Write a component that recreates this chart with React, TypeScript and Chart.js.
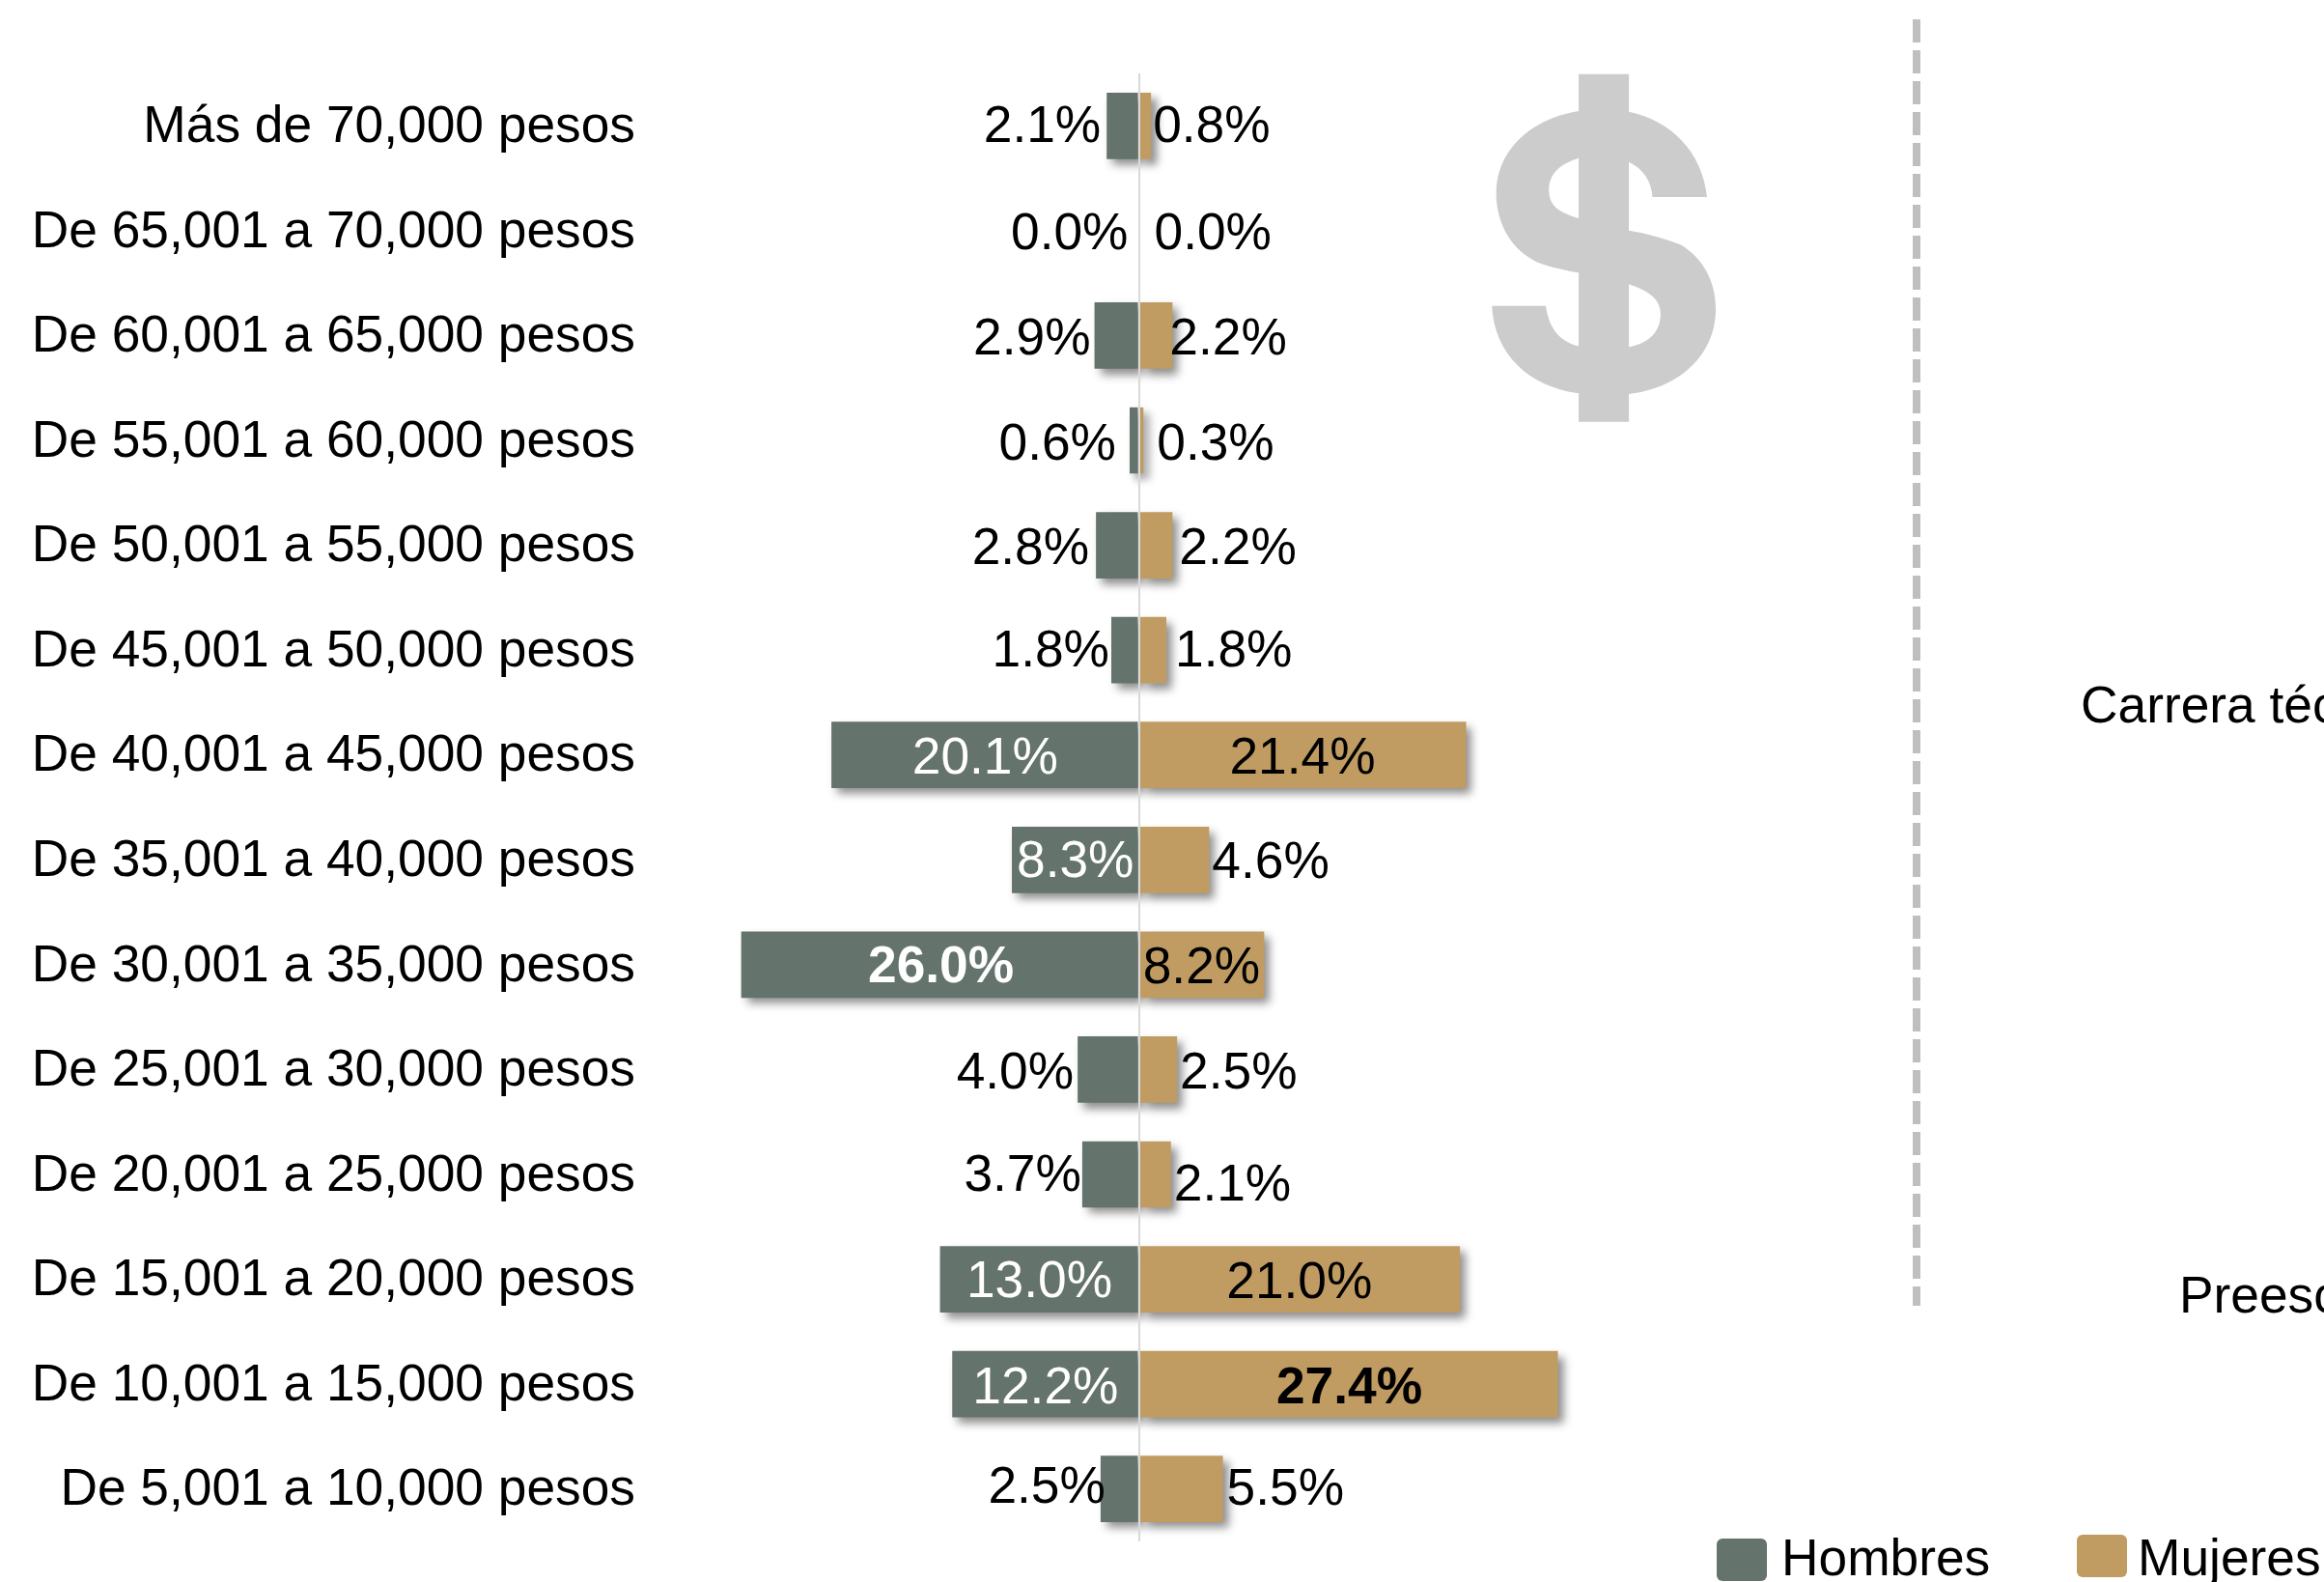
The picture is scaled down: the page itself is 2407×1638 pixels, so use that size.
import React, { useEffect, useRef } from "react";
import { Chart, registerables } from "chart.js";

Chart.register(...registerables);

const categories = [
  "Más de 70,000 pesos", "De 65,001 a 70,000 pesos", "De 60,001 a 65,000 pesos",
  "De 55,001 a 60,000 pesos", "De 50,001 a 55,000 pesos", "De 45,001 a 50,000 pesos",
  "De 40,001 a 45,000 pesos", "De 35,001 a 40,000 pesos", "De 30,001 a 35,000 pesos",
  "De 25,001 a 30,000 pesos", "De 20,001 a 25,000 pesos", "De 15,001 a 20,000 pesos",
  "De 10,001 a 15,000 pesos", "De 5,001 a 10,000 pesos",
];
const hombres = [2.1, 0.0, 2.9, 0.6, 2.8, 1.8, 20.1, 8.3, 26.0, 4.0, 3.7, 13.0, 12.2, 2.5];
const mujeres = [0.8, 0.0, 2.2, 0.3, 2.2, 1.8, 21.4, 4.6, 8.2, 2.5, 2.1, 21.0, 27.4, 5.5];
const sideLabels = ["Carrera técnica", "Preescolar"];

// Hand placement of the value labels, as the source has them (pixels from the default spot).
const hombresNudge = [[0, -1], [-5, 1], [2, 2], [-8, 2], [-1, 2], [4, -1], [0, 2], [0, 0], [1, 0], [2, 2], [5, -1], [0, 1], [0, 2], [11, -3]];
const mujeresNudge = [[-4, -1], [10, 1], [-9, 2], [8, 2], [1, 2], [3, -1], [0, 2], [-3, 1], [0, 1], [-3, 2], [-3, 9], [0, 2], [1, 2], [-2, -1]];

const GREEN = "#64736b";
const TAN = "#c19c62";
const FAMILY = "'Liberation Sans', Arial, sans-serif";
const FONT = `53.3px ${FAMILY}`;
const BOLD = `bold 53.3px ${FAMILY}`;
const TEXT_DROP = 3;
const X_MIN = -30;
const X_MAX = 38;
const PX_PER_UNIT = 15.84;
const ZERO_X = 1179.5;

// Dollar icon outline (a drawn ornament, not data)
const DOLLAR_S =
  "M573 612C565 470 515 375 447 347L366 345C280 372 233 480 233 600C233 700 260 780 300 815C320 830 345 840 366 847" +
  "L447 883C480 905 498 930 498 975C498 1030 480 1065 447 1078L366 1075C335 1060 318 1020 313 950L226 950" +
  "C230 1100 285 1200 366 1222L447 1224C530 1205 587 1100 587 960C587 870 565 800 530 760C505 740 475 725 447 716" +
  "L366 678C335 660 318 640 318 590C318 540 335 510 366 491L447 503C470 525 483 560 485 612Z";
const DOLLAR_BAR = "M366 230L447 230L447 1310L366 1310Z";

const barLabels = {
  id: "barLabels",
  afterDatasetsDraw(chart: any) {
    const ctx = chart.ctx;
    const x = chart.scales.x;
    const y = chart.scales.y;
    ctx.save();
    ctx.textBaseline = "middle";
    const peak = (arr: number[]) => Math.max(...arr);
    const one = (arr: number[], nudge: number[][], sign: number, insideColor: string) => {
      arr.forEach((v, i) => {
        const inside = v >= 8;
        const isPeak = v === peak(arr);
        const end = x.getPixelForValue(sign * v);
        const zero = x.getPixelForValue(0);
        const [dx, dy] = nudge[i];
        const text = `${v.toFixed(1)}%`;
        ctx.font = isPeak ? BOLD : FONT;
        ctx.fillStyle = inside ? insideColor : "#000";
        const w = ctx.measureText(text).width;
        const cx = inside ? (end + zero) / 2 : end + sign * (6 + w / 2);
        ctx.textAlign = "center";
        ctx.fillText(text, cx + dx, y.getPixelForValue(i) + dy + TEXT_DROP);
      });
    };
    one(hombres, hombresNudge, -1, "#fff");
    one(mujeres, mujeresNudge, 1, "#000");
    ctx.restore();
  },
};

const barShadow = {
  id: "barShadow",
  beforeDatasetDraw(chart: any) {
    const ctx = chart.ctx;
    ctx.save();
    ctx.shadowColor = "rgba(0,0,0,0.45)";
    ctx.shadowBlur = 9;
    ctx.shadowOffsetX = 6;
    ctx.shadowOffsetY = 6;
  },
  afterDatasetDraw(chart: any) {
    chart.ctx.restore();
  },
};

const decorations = {
  id: "decorations",
  beforeDatasetsDraw(chart: any) {
    const ctx = chart.ctx;
    ctx.save();
    ctx.textAlign = "left";
    ctx.textBaseline = "alphabetic";
    // Large dollar sign
    ctx.save();
    ctx.translate(1400, 0);
    ctx.scale(1 / 1.557, 1 / 3);
    ctx.fillStyle = "#cccccc";
    ctx.fill(new Path2D(DOLLAR_S));
    ctx.fill(new Path2D(DOLLAR_BAR));
    ctx.restore();
    // Dashed divider
    ctx.strokeStyle = "#bfbfbf";
    ctx.lineWidth = 8;
    ctx.setLineDash([24, 8]);
    ctx.beginPath();
    ctx.moveTo(1985, 20);
    ctx.lineTo(1985, 1352);
    ctx.stroke();
    ctx.setLineDash([]);
    // Labels of the neighbouring panel, cut by the page edge
    ctx.font = FONT;
    ctx.fillStyle = "#000";
    ctx.fillText(sideLabels[0], 2155, 748);
    ctx.fillText(sideLabels[1], 2257, 1359);
    // Legend
    const swatch = (x0: number, y0: number, color: string, label: string, tx: number) => {
      ctx.fillStyle = color;
      ctx.beginPath();
      ctx.roundRect(x0, y0, 52, 44, 6);
      ctx.fill();
      ctx.fillStyle = "#000";
      ctx.fillText(label, tx, 1631);
    };
    swatch(1778, 1593, chart.data.datasets[0].backgroundColor, chart.data.datasets[0].label, 1845);
    swatch(2151, 1589, chart.data.datasets[1].backgroundColor, chart.data.datasets[1].label, 2214);
    ctx.restore();
  },
};

export default function App() {
  const ref = useRef<HTMLCanvasElement | null>(null);
  useEffect(() => {
    document.body.style.margin = "0";
    document.body.style.overflow = "hidden";
    const left = ZERO_X + X_MIN * PX_PER_UNIT;
    const right = ZERO_X + X_MAX * PX_PER_UNIT;
    const chart = new Chart(ref.current as HTMLCanvasElement, {
      type: "bar",
      data: {
        labels: categories,
        datasets: [
          { label: "Hombres", data: hombres.map((v) => -v), backgroundColor: GREEN, borderWidth: 0, order: 2 },
          { label: "Mujeres", data: mujeres, backgroundColor: TAN, borderWidth: 0, order: 1 },
        ],
      },
      options: {
        indexAxis: "y",
        responsive: false,
        animation: false,
        layout: { padding: { top: 76, bottom: 42, left: 0, right: 2407 - right } },
        datasets: { bar: { categoryPercentage: 1, barPercentage: 0.633 } },
        plugins: { legend: { display: false }, tooltip: { enabled: false }, title: { display: false } },
        scales: {
          x: {
            stacked: true,
            min: X_MIN,
            max: X_MAX,
            border: { display: false },
            afterFit: (s: any) => { s.height = 0; s.paddingLeft = 0; s.paddingRight = 0; },
            ticks: { display: false, stepSize: 10 },
            grid: {
              z: 1,
              drawTicks: false,
              lineWidth: 2,
              color: (c: any) => (c.tick && c.tick.value === 0 ? "#d9d9d9" : "transparent"),
            },
          },
          y: {
            stacked: true,
            border: { display: false },
            grid: { display: false, drawTicks: false },
            afterFit: (s: any) => { s.width = left; s.paddingTop = 0; s.paddingBottom = 0; },
            ticks: {
              autoSkip: false,
              color: "#000",
              padding: left - 658,
              labelOffset: 2,
              font: { family: "'Liberation Sans', Arial, sans-serif", size: 53.3 },
            },
          },
        },
      } as any,
      plugins: [decorations, barShadow, barLabels],
    });
    return () => chart.destroy();
  }, []);
  return <canvas ref={ref} width={2407} height={1638} style={{ display: "block", background: "#fff" }} />;
}
